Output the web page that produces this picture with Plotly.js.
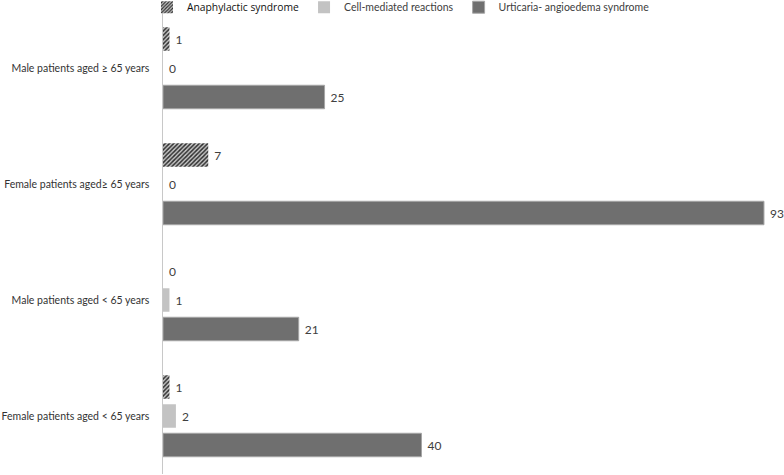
<!DOCTYPE html>
<html>
<head>
<meta charset="utf-8">
<script src="https://cdn.plot.ly/plotly-3.0.1.min.js"></script>
<style>html,body{margin:0;padding:0;background:#fff;}#chart{width:784px;height:475px;}</style>
</head>
<body>
<div id="chart"></div>
<script>
const categories = [
  "Male patients aged \u2265 65 years",
  "Female patients aged\u2265 65 years",
  "Male patients aged < 65 years",
  "Female patients aged < 65 years"
];
const seriesNames = ["Anaphylactic syndrome", "Cell-mediated reactions", "Urticaria- angioedema syndrome"];
const anaphylactic = [1, 7, 0, 1];
const cellMediated = [0, 0, 1, 2];
const urticaria = [25, 93, 21, 40];

const labelFont = {family: "Lato, Carlito, sans-serif", size: 12, color: "#404040"};

function trace(legendName, values, marker) {
  return {
    type: "bar",
    orientation: "h",
    name: legendName,
    y: categories,
    x: values,
    marker: marker,
    text: values.map(v => "\u00a0" + v),
    textposition: "outside",
    textfont: labelFont,
    cliponaxis: false,
    hoverinfo: "skip"
  };
}

const data = [
  trace('<span style="font-family:\'Open Sans\', sans-serif;font-size:10.3px;color:#111111">' + seriesNames[0] + '</span>', anaphylactic,
    {color: "#c8c8c8", line: {width: 0},
     pattern: {shape: "/", fgcolor: "#2e2e2e", bgcolor: "#c8c8c8", size: 3, solidity: 0.5}}),
  trace(seriesNames[1], cellMediated, {color: "#c3c3c3", line: {width: 0}}),
  trace(seriesNames[2], urticaria, {color: "#6f6f6f", line: {color: "#a6a6a6", width: 1}})
];

const layout = {
  width: 784, height: 475,
  margin: {l: 163, r: 0, t: 10, b: 1, pad: 0, autoexpand: false},
  paper_bgcolor: "#ffffff", plot_bgcolor: "#ffffff",
  barmode: "group",
  bargap: 0.25,
  bargroupgap: 0.19,
  showlegend: true,
  legend: {
    orientation: "h", x: -0.0258, xanchor: "left", y: 1.006, yanchor: "middle",
    font: {family: "Lato, Carlito, sans-serif", size: 10.5, color: "#404040"},
    traceorder: "normal", itemwidth: 30,
    bgcolor: "rgba(0,0,0,0)"
  },
  xaxis: {range: [0, 96.1], visible: false, showgrid: false, zeroline: false, fixedrange: true},
  yaxis: {
    autorange: "reversed", type: "category",
    showline: true, linecolor: "#c8c8c8", linewidth: 1.5,
    showgrid: false, zeroline: false, ticks: "",
    ticklabelstandoff: 10,
    tickfont: {family: "Lato, Carlito, sans-serif", size: 10.5, color: "#333333"}
  }
};

Plotly.newPlot("chart", data, layout, {staticPlot: true, displayModeBar: false});
</script>
</body>
</html>
